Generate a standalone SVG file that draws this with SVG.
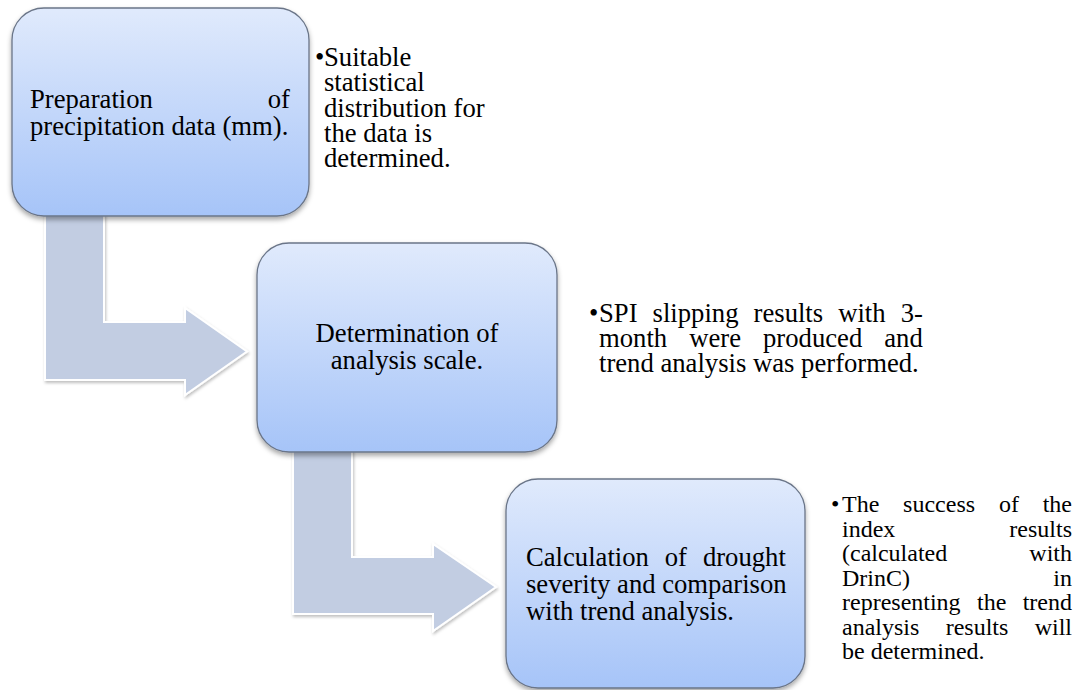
<svg xmlns="http://www.w3.org/2000/svg" width="1082" height="690" viewBox="0 0 1082 690">
<defs>
<linearGradient id="boxGrad" x1="0" y1="0" x2="0" y2="1">
<stop offset="0" stop-color="#e0eafc"/>
<stop offset="1" stop-color="#a6c4f8"/>
</linearGradient>
<filter id="boxShadow" x="-10%" y="-10%" width="120%" height="125%">
<feDropShadow dx="0" dy="3" stdDeviation="2.5" flood-color="#000" flood-opacity="0.35"/>
</filter>
<filter id="arrowShadow" x="-10%" y="-10%" width="125%" height="125%">
<feDropShadow dx="1" dy="2" stdDeviation="1.5" flood-color="#000" flood-opacity="0.25"/>
</filter>
</defs>
<style>
.box{fill:url(#boxGrad);stroke:#6a7588;stroke-width:1.3;filter:url(#boxShadow)}
.arrow{fill:#c2cde2;stroke:#ffffff;stroke-width:2;stroke-linejoin:miter;filter:url(#arrowShadow)}
.t{font-family:"Liberation Serif","Times New Roman",serif;font-size:26.67px;fill:#000}
.s{font-family:"Liberation Serif","Times New Roman",serif;font-size:24px;fill:#000}
.c{text-anchor:middle}
.e{text-anchor:end}
</style>
<rect width="1082" height="690" fill="#ffffff"/>
<g id="connectors">
<path class="arrow" d="M45,205 L104,205 L104,322 L185,322 L185,308 L247,351.5 L185,395 L185,380 L45,380 Z"/>
<path class="arrow" d="M293,440 L352,440 L352,557 L433,557 L433,544 L496,587 L433,631 L433,614 L293,614 Z"/>
</g>
<g id="node1">
<rect class="box" x="12" y="8" width="297" height="208" rx="32" ry="32"/>
<text class="t" x="30" y="108">Preparation</text>
<text class="t e" x="290" y="108">of</text>
<text class="t" x="30" y="135">precipitation data (mm).</text>
</g>
<g id="note1">
<text class="t" x="315" y="66">•</text>
<text class="t" x="324" y="66">Suitable</text>
<text class="t" x="324" y="91">statistical</text>
<text class="t" x="324" y="117">distribution for</text>
<text class="t" x="324" y="142">the data is</text>
<text class="t" x="324" y="167">determined.</text>
</g>
<g id="node2">
<rect class="box" x="257" y="243" width="300" height="209" rx="32" ry="32"/>
<text class="t c" x="407" y="342">Determination of</text>
<text class="t c" x="407" y="369">analysis scale.</text>
</g>
<g id="note2">
<text class="t" x="589" y="322">•</text>
<text class="t" x="599" y="322" word-spacing="8.4">SPI slipping results with 3-</text>
<text class="t" x="599" y="347" word-spacing="15.4">month were produced and</text>
<text class="t" x="599" y="372">trend analysis was performed.</text>
</g>
<g id="node3">
<rect class="box" x="506" y="479" width="299" height="209" rx="32" ry="32"/>
<text class="t" x="526" y="565.5" word-spacing="9.25">Calculation of drought</text>
<text class="t" x="526" y="592.5">severity and comparison</text>
<text class="t" x="526" y="619.5">with trend analysis.</text>
</g>
<g id="note3">
<text class="s" x="831" y="512">•</text>
<text class="s" x="842" y="512" word-spacing="17.8">The success of the</text>
<text class="s" x="842" y="536.5">index</text>
<text class="s e" x="1072" y="536.5">results</text>
<text class="s" x="842" y="561">(calculated</text>
<text class="s e" x="1072" y="561">with</text>
<text class="s" x="842" y="585.5">DrinC)</text>
<text class="s e" x="1072" y="585.5">in</text>
<text class="s" x="842" y="610" word-spacing="10.35">representing the trend</text>
<text class="s" x="842" y="634.5" word-spacing="20.35">analysis results will</text>
<text class="s" x="842" y="659">be determined.</text>
</g>
</svg>
